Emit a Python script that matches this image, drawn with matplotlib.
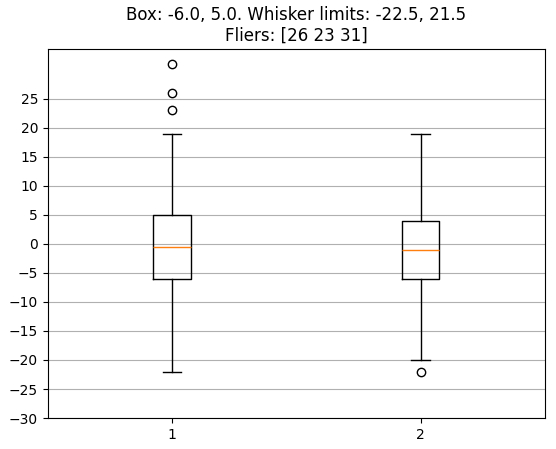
import matplotlib
matplotlib.use("Agg")
import matplotlib.pyplot as plt

labels = ["1", "2"]
q1 = [-6.0, -6.0]
med = [-0.5, -1.0]
q3 = [5.0, 4.0]
whislo = [-22.0, -20.0]
whishi = [19.0, 19.0]
fliers = [[26, 23, 31], [-22]]

stats = [dict(label=labels[i], q1=q1[i], med=med[i], q3=q3[i],
              whislo=whislo[i], whishi=whishi[i], fliers=fliers[i])
         for i in range(2)]

fig = plt.figure(figsize=(5.56, 4.49), dpi=100)
ax = fig.add_axes([0.086, 0.069, 0.894, 0.822])
ax.bxp(stats)
ax.set_yticks(range(-30, 30, 5))
ax.set_ylim(-30, 33.6)
ax.yaxis.grid(True, color="#b0b0b0")
ax.set_title("Box: -6.0, 5.0. Whisker limits: -22.5, 21.5\nFliers: [26 23 31]")
fig.savefig("out.png", dpi=100)
